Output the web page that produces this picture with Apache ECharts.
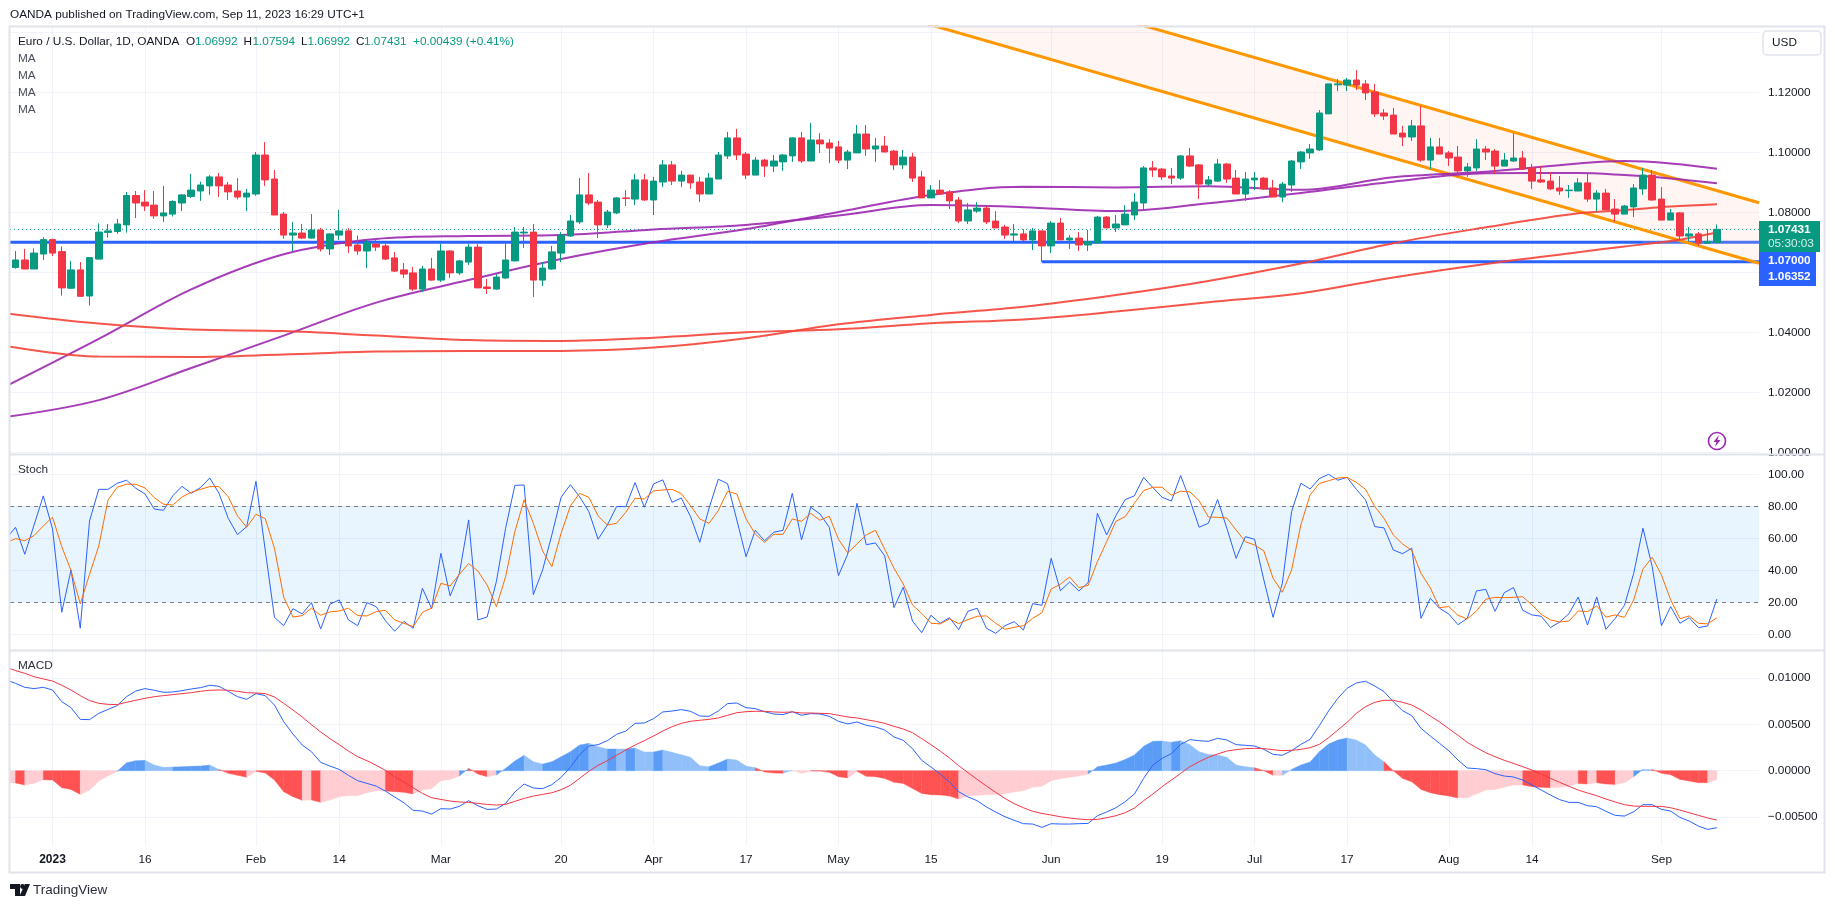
<!DOCTYPE html>
<html><head><meta charset="utf-8">
<style>html,body{margin:0;padding:0;background:#fff}#c{width:1835px;height:909px}</style>
<script src="https://cdn.jsdelivr.net/npm/echarts@6/dist/echarts.min.js"></script>
</head><body><div id="c"></div>
<script>
// bar index 0 = 2 Jan 2023, weekdays only; candles run from index -4 to 180
const firstCandle = -4;
const ohlc = [
[1.0616,1.0671,1.0612,1.0641],[1.0641,1.0678,1.0610,1.0611],[1.0611,1.0680,1.0611,1.0664],[1.0661,1.0717,1.0641,1.0709],
[1.0709,1.0712,1.0654,1.0664],[1.0669,1.0686,1.0522,1.0548],[1.0547,1.0638,1.0544,1.0608],[1.0608,1.0634,1.0518,1.0520],[1.0521,1.0651,1.0489,1.0649],
[1.0644,1.0763,1.0643,1.0734],[1.0733,1.0761,1.0716,1.0738],[1.0736,1.0778,1.0728,1.0761],[1.0758,1.0868,1.0732,1.0856],[1.0856,1.0871,1.0781,1.0831],
[1.0834,1.0874,1.0804,1.0821],[1.0824,1.0871,1.0778,1.0788],[1.0788,1.0888,1.0768,1.0798],[1.0794,1.0840,1.0786,1.0836],[1.0831,1.0861,1.0804,1.0858],
[1.0853,1.0928,1.0848,1.0874],[1.0871,1.0902,1.0838,1.0891],[1.0888,1.0924,1.0858,1.0918],[1.0918,1.0931,1.0851,1.0888],[1.0891,1.0901,1.0841,1.0868],
[1.0871,1.0914,1.0843,1.0851],[1.0851,1.0878,1.0804,1.0864],[1.0861,1.1001,1.0855,1.0991],[1.0991,1.1034,1.0888,1.0908],[1.0911,1.0941,1.0791,1.0791],
[1.0794,1.0801,1.0712,1.0724],[1.0724,1.0768,1.0671,1.0731],[1.0731,1.0761,1.0711,1.0714],[1.0714,1.0794,1.0712,1.0741],[1.0741,1.0748,1.0669,1.0678],
[1.0678,1.0730,1.0658,1.0728],[1.0724,1.0808,1.0708,1.0738],[1.0738,1.0747,1.0664,1.0688],[1.0691,1.0723,1.0658,1.0671],[1.0671,1.0708,1.0614,1.0698],
[1.0694,1.0710,1.0671,1.0684],[1.0688,1.0701,1.0641,1.0644],[1.0648,1.0668,1.0601,1.0604],[1.0608,1.0631,1.0581,1.0594],[1.0598,1.0618,1.0538,1.0544],
[1.0544,1.0621,1.0534,1.0611],[1.0611,1.0648,1.0572,1.0574],[1.0574,1.0696,1.0568,1.0671],[1.0671,1.0674,1.0581,1.0598],[1.0598,1.0641,1.0591,1.0638],
[1.0634,1.0694,1.0624,1.0684],[1.0684,1.0694,1.0548,1.0548],[1.0551,1.0578,1.0528,1.0546],[1.0544,1.0594,1.0542,1.0584],[1.0581,1.0701,1.0578,1.0641],
[1.0638,1.0751,1.0636,1.0734],[1.0731,1.0751,1.0681,1.0734],[1.0734,1.0761,1.0518,1.0574],[1.0574,1.0634,1.0554,1.0614],[1.0611,1.0688,1.0608,1.0668],
[1.0664,1.0734,1.0634,1.0724],[1.0721,1.0791,1.0718,1.0771],[1.0768,1.0914,1.0761,1.0858],[1.0858,1.0931,1.0824,1.0831],[1.0834,1.0841,1.0714,1.0758],
[1.0758,1.0808,1.0748,1.0801],[1.0798,1.0851,1.0794,1.0848],[1.0848,1.0874,1.0821,1.0846],[1.0844,1.0928,1.0824,1.0908],[1.0908,1.0928,1.0838,1.0841],
[1.0841,1.0918,1.0791,1.0904],[1.0901,1.0974,1.0884,1.0958],[1.0958,1.0971,1.0891,1.0904],[1.0904,1.0938,1.0884,1.0924],[1.0924,1.0924,1.0878,1.0898],
[1.0901,1.0918,1.0834,1.0861],[1.0861,1.0931,1.0861,1.0914],[1.0911,1.1001,1.0911,1.0991],[1.0988,1.1068,1.0978,1.1048],[1.1048,1.1078,1.0974,1.0991],
[1.0994,1.1001,1.0911,1.0924],[1.0924,1.0984,1.0924,1.0974],[1.0974,1.0978,1.0918,1.0954],[1.0954,1.0991,1.0934,1.0971],[1.0968,1.0994,1.0938,1.0991],
[1.0988,1.1051,1.0968,1.1048],[1.1048,1.1068,1.0964,1.0971],[1.0971,1.1098,1.0971,1.1041],[1.1041,1.1064,1.0998,1.1028],[1.1031,1.1044,1.0964,1.1014],
[1.1018,1.1038,1.0964,1.0974],[1.0974,1.1008,1.0944,1.1001],[1.0998,1.1091,1.0998,1.1061],[1.1061,1.1091,1.0988,1.1011],[1.1011,1.1048,1.0968,1.1021],
[1.1021,1.1054,1.1001,1.1001],[1.1004,1.1008,1.0941,1.0958],[1.0958,1.1008,1.0944,1.0984],[1.0984,1.0998,1.0901,1.0914],[1.0918,1.0938,1.0848,1.0848],
[1.0848,1.0891,1.0848,1.0874],[1.0874,1.0908,1.0858,1.0861],[1.0868,1.0874,1.0811,1.0838],[1.0841,1.0851,1.0764,1.0771],[1.0771,1.0831,1.0761,1.0808],
[1.0804,1.0834,1.0798,1.0814],[1.0814,1.0821,1.0761,1.0768],[1.0771,1.0804,1.0748,1.0748],[1.0751,1.0758,1.0711,1.0724],[1.0724,1.0761,1.0704,1.0728],
[1.0728,1.0744,1.0704,1.0708],[1.0708,1.0748,1.0674,1.0738],[1.0738,1.0738,1.0635,1.0688],[1.0688,1.0771,1.0664,1.0764],[1.0764,1.0781,1.0708,1.0708],
[1.0708,1.0724,1.0678,1.0714],[1.0714,1.0734,1.0671,1.0691],[1.0691,1.0741,1.0671,1.0702],[1.0698,1.0788,1.0698,1.0784],[1.0784,1.0788,1.0748,1.0748],
[1.0748,1.0791,1.0734,1.0761],[1.0758,1.0824,1.0758,1.0794],[1.0791,1.0864,1.0774,1.0834],[1.0831,1.0954,1.0808,1.0948],[1.0948,1.0971,1.0918,1.0941],
[1.0944,1.0948,1.0908,1.0918],[1.0921,1.0948,1.0894,1.0914],[1.0914,1.0991,1.0908,1.0988],[1.0988,1.1014,1.0951,1.0954],[1.0958,1.0961,1.0844,1.0894],
[1.0894,1.0921,1.0888,1.0908],[1.0904,1.0978,1.0901,1.0961],[1.0961,1.0964,1.0898,1.0911],[1.0914,1.0941,1.0861,1.0861],[1.0861,1.0934,1.0838,1.0911],
[1.0908,1.0934,1.0874,1.0914],[1.0914,1.0918,1.0874,1.0878],[1.0881,1.0908,1.0851,1.0851],[1.0851,1.0901,1.0834,1.0894],[1.0891,1.0974,1.0868,1.0971],
[1.0968,1.1004,1.0944,1.1001],[1.0998,1.1028,1.0978,1.1011],[1.1008,1.1141,1.1004,1.1131],[1.1128,1.1228,1.1128,1.1228],[1.1225,1.1244,1.1204,1.1228],
[1.1224,1.1248,1.1204,1.1241],[1.1241,1.1274,1.1208,1.1224],[1.1228,1.1241,1.1174,1.1198],[1.1201,1.1228,1.1118,1.1128],[1.1131,1.1144,1.1108,1.1121],
[1.1124,1.1148,1.1061,1.1061],[1.1064,1.1088,1.1021,1.1051],[1.1051,1.1108,1.1038,1.1088],[1.1088,1.1154,1.0968,1.0974],[1.0974,1.1048,1.0944,1.1018],
[1.1018,1.1048,1.0994,1.0994],[1.0998,1.1004,1.0954,1.0981],[1.0984,1.1021,1.0918,1.0938],[1.0938,1.0964,1.0918,1.0951],[1.0948,1.1044,1.0938,1.1011],
[1.1011,1.1021,1.0974,1.1001],[1.1004,1.1011,1.0928,1.0954],[1.0954,1.0998,1.0954,1.0974],[1.0971,1.1063,1.0968,1.0981],[1.0981,1.1004,1.0941,1.0944],
[1.0948,1.0961,1.0878,1.0904],[1.0908,1.0954,1.0898,1.0901],[1.0904,1.0934,1.0874,1.0878],[1.0881,1.0921,1.0858,1.0871],[1.0872,1.0891,1.0848,1.0874],
[1.0871,1.0914,1.0871,1.0898],[1.0898,1.0931,1.0834,1.0844],[1.0844,1.0874,1.0804,1.0864],[1.0864,1.0878,1.0808,1.0808],[1.0811,1.0844,1.0768,1.0794],
[1.0794,1.0824,1.0794,1.0821],[1.0818,1.0894,1.0784,1.0881],[1.0878,1.0948,1.0858,1.0924],[1.0924,1.0941,1.0838,1.0841],[1.0844,1.0884,1.0774,1.0774],
[1.0774,1.0811,1.0774,1.0798],[1.0798,1.0801,1.0708,1.0721],[1.0721,1.0751,1.0703,1.0728],[1.0728,1.0734,1.0688,1.0697],[1.0697,1.0744,1.0697,1.0703],
[1.06992,1.07594,1.06992,1.07431]
];
const maIndex = [-5,5,15,25,35,45,55,65,75,85,95,105,115,125,135,145,155,165,170,175,180];
const maPurpleFast = [1.0221,1.0378,1.0543,1.0660,1.0711,1.0721,1.0724,1.0743,1.0758,1.0789,1.0824,1.0817,1.0804,1.0830,1.0864,1.0902,1.0930,1.0931,1.0924,1.0913,1.0897];
const maPurpleSlow = [1.0118,1.0174,1.0281,1.0389,1.0499,1.0574,1.0644,1.0700,1.0744,1.0801,1.0858,1.0885,1.0883,1.0887,1.0875,1.0917,1.0935,1.0963,1.0971,1.0963,1.0945];
const maRedSlow = [1.0463,1.0429,1.0409,1.0404,1.0389,1.0374,1.0371,1.0382,1.0400,1.0410,1.0430,1.0443,1.0469,1.0500,1.0530,1.0583,1.0628,1.0667,1.0686,1.0704,1.0733];
const maRedFast = [1.0354,1.0319,1.0318,1.0326,1.0336,1.0338,1.0338,1.0349,1.0380,1.0427,1.0458,1.0485,1.0524,1.0571,1.0629,1.0697,1.0750,1.0797,1.0807,1.0819,1.0827];

const channelUpperIdx = [115,184.55], channelUpperPrice = [1.1449,1.0832];
const channelLowerIdx = [90,184.55], channelLowerPrice = [1.1469,1.0630];
const lastPrice = 1.07431, supportA = 1.07000, supportB = 1.06352, supportBStart = 107;

// oscillators start one bar earlier, at index -5
const firstOsc = -5;
const stochK = [59.8,66.9,50.0,68.3,86.5,65.8,13.8,40.2,3.8,70.8,90.6,90.6,94.4,96.3,91.3,87.7,78.3,77.5,86.5,92.5,88.1,91.7,97.7,88.1,72.5,62.3,67.3,95.6,52.7,10.6,5.4,16.0,12.7,19.8,3.3,18.8,21.5,9.0,5.4,19.8,17.3,8.5,1.9,8.1,3.8,28.8,16.0,50.6,24.0,38.1,71.5,9.0,10.8,32.9,66.3,93.1,93.3,24.8,40.2,62.1,85.6,93.5,86.0,76.7,59.4,68.3,79.8,79.8,94.8,79.4,94.0,96.5,82.5,85.2,73.5,57.5,78.8,96.9,94.2,71.5,48.5,65.0,58.5,63.8,65.0,88.1,59.0,79.4,75.2,66.9,36.7,50.2,81.9,56.0,57.1,49.0,16.7,29.4,8.3,1.0,11.9,6.9,10.4,2.9,14.4,16.3,3.8,0.6,5.4,7.9,2.7,19.2,18.1,47.5,27.3,32.7,27.1,32.3,75.6,62.1,74.2,84.2,86.5,98.1,91.7,85.6,83.3,99.2,84.0,66.9,69.4,84.2,66.3,47.5,61.0,59.4,34.0,10.6,31.9,76.7,94.4,90.8,97.3,100,96.3,98.1,90.6,84.0,67.3,66.5,52.7,50.4,53.8,10.0,22.5,16.3,12.7,6.0,10.0,27.1,28.1,14.4,26.0,29.2,15.0,12.1,11.3,4.2,7.7,12.9,23.3,5.8,23.3,3.1,10.0,18.1,38.1,66.3,42.3,5.4,17.3,6.9,10.4,4.2,5.2,22.1];
const stochD = [57.3,59.8,58.5,61.7,67.7,73.1,54.8,39.8,19.0,37.5,55.2,84.0,91.9,93.8,93.8,91.5,85.4,81.3,80.8,85.8,88.8,90.6,92.3,92.3,86.0,74.0,66.9,75.0,72.3,53.8,23.3,10.8,11.7,16.3,11.9,14.0,14.6,16.3,11.7,11.5,14.2,15.0,9.0,6.9,4.8,13.8,16.3,31.9,30.2,37.5,44.2,39.6,30.8,17.3,36.0,64.2,84.0,69.4,52.1,42.3,63.1,80.2,88.1,85.6,74.0,68.3,69.4,76.3,85.0,84.6,89.6,90.2,90.6,87.9,80.4,72.1,69.4,77.3,89.4,87.7,72.1,62.7,57.5,62.5,62.5,72.1,70.6,75.6,71.3,73.8,59.4,50.8,56.5,62.1,65.0,53.1,41.3,31.5,18.3,13.1,6.9,6.5,9.6,6.7,9.2,11.3,11.5,6.9,3.1,4.4,5.4,10.0,13.5,28.3,31.3,35.8,29.2,30.6,45.4,57.9,70.6,73.5,81.9,89.8,91.9,91.9,86.9,89.4,89.0,83.5,73.3,73.1,72.7,65.2,57.9,55.8,52.1,35.0,26.3,40.2,68.3,87.1,94.2,96.0,97.7,98.1,95.0,90.6,79.8,72.5,62.1,56.5,52.5,38.1,29.0,16.7,17.3,11.9,9.6,14.6,21.9,23.1,22.9,23.1,23.5,18.3,12.5,9.0,7.7,8.3,14.6,14.2,17.7,10.8,12.1,10.6,21.5,40.8,48.1,37.1,21.5,9.8,11.5,6.9,6.5,10.4];
const macdLine = [0.00979,0.00943,0.00900,0.00886,0.00900,0.00871,0.00745,0.00680,0.00554,0.00551,0.00619,0.00662,0.00702,0.00799,0.00860,0.00886,0.00868,0.00846,0.00850,0.00864,0.00882,0.00896,0.00922,0.00911,0.00857,0.00799,0.00770,0.00832,0.00810,0.00709,0.00529,0.00396,0.00277,0.00205,0.00090,0.00050,0.00014,-0.00050,-0.00108,-0.00137,-0.00166,-0.00220,-0.00284,-0.00346,-0.00428,-0.00436,-0.00468,-0.00410,-0.00414,-0.00385,-0.00324,-0.00378,-0.00418,-0.00414,-0.00353,-0.00230,-0.00144,-0.00187,-0.00194,-0.00151,-0.00072,0.00036,0.00173,0.00266,0.00281,0.00324,0.00392,0.00428,0.00511,0.00515,0.00562,0.00634,0.00644,0.00659,0.00641,0.00590,0.00587,0.00644,0.00724,0.00731,0.00680,0.00670,0.00637,0.00612,0.00605,0.00637,0.00598,0.00616,0.00612,0.00587,0.00533,0.00504,0.00526,0.00490,0.00472,0.00439,0.00364,0.00328,0.00238,0.00112,0.00040,-0.00036,-0.00122,-0.00227,-0.00284,-0.00324,-0.00392,-0.00446,-0.00497,-0.00536,-0.00572,-0.00576,-0.00612,-0.00572,-0.00576,-0.00576,-0.00572,-0.00569,-0.00486,-0.00446,-0.00400,-0.00335,-0.00252,-0.00083,0.00061,0.00133,0.00184,0.00284,0.00335,0.00324,0.00317,0.00349,0.00331,0.00281,0.00274,0.00266,0.00230,0.00176,0.00166,0.00216,0.00284,0.00338,0.00486,0.00644,0.00781,0.00889,0.00947,0.00965,0.00914,0.00853,0.00745,0.00648,0.00594,0.00457,0.00374,0.00295,0.00216,0.00115,0.00029,0.00022,0.00011,-0.00032,-0.00058,-0.00068,-0.00101,-0.00155,-0.00209,-0.00263,-0.00313,-0.00342,-0.00342,-0.00378,-0.00389,-0.00439,-0.00482,-0.00490,-0.00443,-0.00367,-0.00367,-0.00418,-0.00436,-0.00504,-0.00544,-0.00598,-0.00634,-0.00616];
const macdSignal = [0.01116,0.01080,0.01051,0.01015,0.00990,0.00968,0.00922,0.00871,0.00810,0.00756,0.00727,0.00716,0.00713,0.00738,0.00760,0.00781,0.00799,0.00810,0.00821,0.00832,0.00842,0.00857,0.00868,0.00871,0.00868,0.00857,0.00842,0.00839,0.00832,0.00796,0.00727,0.00655,0.00580,0.00497,0.00418,0.00346,0.00281,0.00212,0.00151,0.00108,0.00058,0.00004,-0.00065,-0.00122,-0.00184,-0.00245,-0.00292,-0.00310,-0.00328,-0.00338,-0.00342,-0.00353,-0.00364,-0.00371,-0.00364,-0.00331,-0.00299,-0.00274,-0.00256,-0.00238,-0.00205,-0.00158,-0.00083,-0.00007,0.00058,0.00108,0.00166,0.00223,0.00277,0.00324,0.00374,0.00428,0.00475,0.00511,0.00533,0.00544,0.00554,0.00569,0.00598,0.00626,0.00637,0.00641,0.00641,0.00634,0.00630,0.00634,0.00623,0.00623,0.00619,0.00616,0.00598,0.00580,0.00569,0.00551,0.00533,0.00511,0.00479,0.00450,0.00410,0.00346,0.00281,0.00212,0.00137,0.00054,-0.00022,-0.00094,-0.00166,-0.00234,-0.00299,-0.00356,-0.00400,-0.00439,-0.00461,-0.00479,-0.00497,-0.00511,-0.00522,-0.00529,-0.00526,-0.00508,-0.00486,-0.00454,-0.00403,-0.00324,-0.00252,-0.00173,-0.00101,-0.00029,0.00043,0.00097,0.00144,0.00180,0.00212,0.00227,0.00238,0.00241,0.00238,0.00227,0.00216,0.00220,0.00230,0.00248,0.00284,0.00356,0.00439,0.00522,0.00619,0.00691,0.00738,0.00760,0.00760,0.00738,0.00709,0.00655,0.00590,0.00526,0.00454,0.00382,0.00306,0.00248,0.00194,0.00151,0.00112,0.00079,0.00043,0.00007,-0.00036,-0.00083,-0.00126,-0.00169,-0.00209,-0.00241,-0.00270,-0.00306,-0.00338,-0.00367,-0.00382,-0.00385,-0.00385,-0.00385,-0.00400,-0.00425,-0.00454,-0.00482,-0.00511,-0.00533];
const macdHist = [-0.00130,-0.00133,-0.00155,-0.00137,-0.00097,-0.00101,-0.00184,-0.00202,-0.00256,-0.00212,-0.00112,-0.00058,-0.00007,0.00086,0.00108,0.00112,0.00061,0.00036,0.00040,0.00043,0.00047,0.00050,0.00061,0.00014,-0.00029,-0.00050,-0.00072,-0.00007,-0.00025,-0.00101,-0.00227,-0.00281,-0.00320,-0.00317,-0.00342,-0.00317,-0.00281,-0.00270,-0.00270,-0.00238,-0.00216,-0.00220,-0.00227,-0.00234,-0.00252,-0.00209,-0.00191,-0.00108,-0.00094,-0.00058,0.00025,-0.00036,-0.00065,-0.00047,0.00025,0.00104,0.00166,0.00097,0.00072,0.00097,0.00151,0.00205,0.00277,0.00295,0.00259,0.00234,0.00234,0.00234,0.00245,0.00202,0.00202,0.00223,0.00198,0.00173,0.00144,0.00054,0.00043,0.00083,0.00126,0.00115,0.00050,0.00032,-0.00014,-0.00025,-0.00029,0.00007,-0.00029,-0.00004,-0.00004,-0.00018,-0.00065,-0.00079,-0.00007,-0.00061,-0.00065,-0.00083,-0.00126,-0.00137,-0.00191,-0.00245,-0.00259,-0.00263,-0.00274,-0.00306,-0.00274,-0.00266,-0.00259,-0.00259,-0.00248,-0.00230,-0.00216,-0.00180,-0.00169,-0.00108,-0.00086,-0.00072,-0.00058,-0.00036,0.00043,0.00061,0.00083,0.00122,0.00169,0.00263,0.00317,0.00320,0.00306,0.00324,0.00281,0.00205,0.00176,0.00169,0.00144,0.00061,0.00043,0.00032,0,-0.00050,-0.00050,0.00014,0.00061,0.00094,0.00205,0.00288,0.00331,0.00353,0.00331,0.00277,0.00169,0.00097,0,-0.00083,-0.00119,-0.00202,-0.00238,-0.00259,-0.00274,-0.00295,-0.00292,-0.00252,-0.00209,-0.00202,-0.00180,-0.00155,-0.00155,-0.00173,-0.00180,-0.00184,-0.00180,-0.00166,-0.00137,-0.00144,-0.00130,-0.00144,-0.00148,-0.00130,-0.00065,0.00014,0.00014,-0.00029,-0.00043,-0.00094,-0.00112,-0.00130,-0.00130,-0.00094];
// 0 strong up, 1 weak up, 2 strong down, 3 weak down
const macdHistShade = [3,3,2,3,3,2,2,2,2,3,3,3,3,0,0,0,1,1,1,0,0,0,0,1,2,2,2,3,2,2,2,2,2,3,2,3,3,3,3,3,3,3,2,2,2,3,3,3,3,3,0,2,2,3,0,0,0,1,1,0,0,0,0,0,1,1,0,1,0,1,1,0,1,1,1,1,1,0,0,1,1,1,2,2,2,1,3,3,2,2,2,2,3,2,2,2,2,2,2,2,2,2,2,2,3,3,3,3,3,3,3,3,3,3,3,3,3,3,0,0,0,0,0,0,0,0,1,0,1,1,1,1,1,1,1,1,2,2,3,1,0,0,0,0,0,0,1,1,1,1,2,2,2,2,2,2,2,2,3,3,3,3,3,3,3,2,2,2,3,3,3,2,3,2,2,3,3,0,1,2,2,2,2,2,2,3];

const tickIndex = [0,10,22,31,42,55,65,75,85,95,108,120,130,140,151,160,174];
const tickLabels = ['2023','16','Feb','14','Mar','20','Apr','17','May','15','Jun','19','Jul','17','Aug','14','Sep'];
const priceGrid = [1.00,1.02,1.04,1.06,1.08,1.10,1.12,1.14];
const priceTicks = [1.00,1.02,1.04,1.08,1.10,1.12];
const stochTicks = [0,20,40,60,80,100];
const macdTicks = [-0.005,0,0.005,0.01];

const FONT = 'Liberation Sans';
const FS = 11.8;
const TXT = '#131722', GRID = '#f0f3fa', FRAME = '#e0e3eb';
const UP = '#089981', DOWN = '#f23645';
const HIST = ['#5b9cf6','#90bff9','#ff5252','#ffcdd2'];
const xMin = -4.6, xMax = 184.55;

const grids = [
  {left:10,width:1749,top:27,height:427},
  {left:10,width:1749,top:455,height:195},
  {left:10,width:1749,top:651,height:195}
];
const xAxes = [0,1,2].map(i=>({
  type:'value',gridIndex:i,min:xMin,max:xMax,
  axisLine:{show:false},
  axisTick:{show:false,customValues:tickIndex},
  splitLine:{show:true,lineStyle:{color:GRID,width:1}},
  axisLabel: i===2 ? {
    show:true,customValues:tickIndex,margin:8,color:TXT,fontFamily:FONT,fontSize:FS,hideOverlap:false,
    formatter:v=>{const s=tickLabels[tickIndex.indexOf(v)];return s==='2023'?'{b|2023}':s;},
    rich:{b:{fontWeight:'bold',fontSize:12,color:TXT,fontFamily:FONT}}
  } : {show:false}
}));
function yAxis(g,min,max,gridVals,labelVals,fmt){
  return {type:'value',gridIndex:g,position:'right',min,max,scale:true,
    axisLine:{show:false},
    axisTick:{show:false,customValues:gridVals},
    splitLine:{show:true,lineStyle:{color:GRID,width:1}},
    axisLabel:{show:true,customValues:labelVals,margin:9,color:TXT,fontFamily:FONT,fontSize:FS,formatter:fmt}};
}
const yAxes = [
  yAxis(0,0.99943,1.14177,priceGrid,priceTicks,v=>v.toFixed(5)),
  yAxis(1,-9.8,112.06,stochTicks,stochTicks,v=>v.toFixed(2)),
  yAxis(2,-0.00813,0.01292,macdTicks,macdTicks,v=>(v<0?'\u2212':'')+Math.abs(v).toFixed(5))
];

const line=(name,data,color,width,xi,extra)=>Object.assign({
  name,type:'line',xAxisIndex:xi,yAxisIndex:xi,data,showSymbol:false,symbol:'none',silent:true,
  lineStyle:{color,width},clip:true,animation:false,z:5
},extra||{});
const oscSeries = arr=>arr.map((v,i)=>[firstOsc+i,v]);
const maSeries = arr=>arr.map((v,i)=>[maIndex[i],v]);

const series = [
  {name:'Channel',type:'custom',xAxisIndex:0,yAxisIndex:0,clip:true,silent:true,animation:false,z:1,
   data:[[channelLowerIdx[0],channelLowerPrice[0],channelLowerIdx[1],channelLowerPrice[1],channelUpperIdx[1],channelUpperPrice[1],channelUpperIdx[0],channelUpperPrice[0]]],
   renderItem:(p,api)=>({type:'polygon',shape:{points:[0,2,4,6].map(k=>api.coord([api.value(k),api.value(k+1)]))},style:{fill:'rgba(255,120,80,0.07)'}})},
  line('Last',[[xMin,lastPrice],[xMax,lastPrice]],UP,1,0,{lineStyle:{color:UP,width:1,type:[1,3]},z:2}),
  {name:'EURUSD',type:'candlestick',xAxisIndex:0,yAxisIndex:0,animation:false,silent:true,barWidth:7,z:8,
   encode:{x:0,y:[1,2,3,4]},
   itemStyle:{color:UP,color0:DOWN,borderColor:UP,borderColor0:DOWN,borderColorDoji:UP,borderWidth:1},
   data:ohlc.map((r,i)=>[firstCandle+i,r[0],r[3],r[2],r[1]])},
  line('SupportA',[[xMin,supportA],[172,supportA]],'#2962ff',3,0,{z:3}),
  line('SupportA2',[[172,supportA],[xMax,supportA]],'#4f74ee',3,0,{z:3}),
  line('SupportB',[[supportBStart,supportB],[xMax,supportB]],'#2962ff',3,0,{z:3}),
  line('ChannelUpper',channelUpperIdx.map((x,i)=>[x,channelUpperPrice[i]]),'#ff9800',3,0,{z:5}),
  line('ChannelLower',channelLowerIdx.map((x,i)=>[x,channelLowerPrice[i]]),'#ff9800',3,0,{z:5}),
  line('MA1',maSeries(maPurpleFast),'#9c27b0',2,0,{smooth:0.35,z:6,lineStyle:{color:'#9c27b0',width:2,opacity:0.9}}),
  line('MA2',maSeries(maPurpleSlow),'#9c27b0',2,0,{smooth:0.35,z:6,lineStyle:{color:'#9c27b0',width:2,opacity:0.9}}),
  line('MA3',maSeries(maRedSlow),'#f44336',2,0,{smooth:0.35,z:6,lineStyle:{color:'#f44336',width:2,opacity:0.9}}),
  line('MA4',maSeries(maRedFast),'#f44336',2,0,{smooth:0.35,z:6,lineStyle:{color:'#f44336',width:2,opacity:0.9}}),

  line('%K',oscSeries(stochK),'#2962ff',1,1,{z:6,
    markArea:{silent:true,animation:false,itemStyle:{color:'rgba(33,150,243,0.1)'},data:[[{yAxis:80},{yAxis:20}]]},
    markLine:{silent:true,animation:false,symbol:'none',label:{show:false},
      lineStyle:{color:'#787b86',type:[4,4],width:1},data:[{yAxis:80},{yAxis:20}]}}),
  line('%D',oscSeries(stochD),'#ff6d00',1,1,{z:7}),

  {name:'Histogram',type:'custom',xAxisIndex:2,yAxisIndex:2,clip:true,silent:true,animation:false,z:3,
   data:macdHist.map((v,i)=>[firstOsc+i,i?macdHist[i-1]:v,v,macdHistShade[i]]),
   renderItem:(p,api)=>{
     const x=api.value(0),a=api.value(1),b=api.value(2);
     const pts=[[x-1,0],[x-1,a],[x,b],[x,0]].map(q=>api.coord(q));
     const c=HIST[api.value(3)];
     return {type:'polygon',shape:{points:pts},style:{fill:c,stroke:c,lineWidth:0.4}};
   }},
  line('MACD',oscSeries(macdLine),'#2962ff',1,2,{z:6}),
  line('Signal',oscSeries(macdSignal),'#f23645',1,2,{z:7})
];

const text=(x,y,t,o)=>({type:'text',x,y,silent:true,z:50,style:Object.assign({text:t,fill:TXT,font:FS+'px "'+FONT+'"',textVerticalAlign:'middle'},o||{})});
const rect=(x,y,w,h,fill,o)=>Object.assign({type:'rect',silent:true,z:40,shape:{x,y,width:w,height:h,r:(o&&o.r)||0},style:{fill,stroke:(o&&o.stroke)||null,lineWidth:(o&&o.lw)||0}});
const g = [
  rect(9.5,26.5,1815,846,'none',{stroke:FRAME,lw:2}),
  {type:'line',silent:true,z:41,shape:{x1:10,y1:454.5,x2:1824,y2:454.5},style:{stroke:FRAME,lineWidth:2}},
  {type:'line',silent:true,z:41,shape:{x1:10,y1:650.5,x2:1824,y2:650.5},style:{stroke:FRAME,lineWidth:2}},
  text(10,15,'OANDA published on TradingView.com, Sep 11, 2023 16:29 UTC+1'),
  text(18,41.5,'Euro / U.S. Dollar, 1D, OANDA'),
  text(186,41.5,'O'),text(195,41.5,'1.06992',{fill:UP}),
  text(243.5,41.5,'H'),text(252.5,41.5,'1.07594',{fill:UP}),
  text(301,41.5,'L'),text(307.5,41.5,'1.06992',{fill:UP}),
  text(356,41.5,'C'),text(364,41.5,'1.07431',{fill:UP}),
  text(413,41.5,'+0.00439 (+0.41%)',{fill:UP}),
  text(18,59,'MA',{fill:'#4a4e5a'}),text(18,76,'MA',{fill:'#4a4e5a'}),text(18,93,'MA',{fill:'#4a4e5a'}),text(18,110,'MA',{fill:'#4a4e5a'}),
  text(18,470,'Stoch',{fill:'#2a2e39'}),text(18,666,'MACD',{fill:'#2a2e39'}),
  // USD button
  rect(1763,31,58,24,'#fff',{stroke:FRAME,lw:1.5,r:4}),
  text(1772,43,'USD'),
  // price labels on the scale
  rect(1759,221,61,31,UP),
  text(1768,229.5,'1.07431',{fill:'#fff',font:'bold '+FS+'px "'+FONT+'"'}),
  text(1768,243.5,'05:30:03',{fill:'#d5efe9',font:FS+'px "'+FONT+'"'}),
  rect(1759,252,57,34,'#2962ff'),
  text(1768,260.5,'1.07000',{fill:'#fff',font:'bold '+FS+'px "'+FONT+'"'}),
  text(1768,277,'1.06352',{fill:'#fff',font:'bold '+FS+'px "'+FONT+'"'}),
  // lightning badge
  {type:'circle',silent:true,z:40,shape:{cx:1717,cy:441,r:8.5},style:{fill:'#fff',stroke:'#9c27b0',lineWidth:1.6}},
  {type:'polygon',silent:true,z:41,shape:{points:[[1719,435],[1713.5,442],[1716.5,442],[1715,447],[1720.5,440],[1717.5,440]]},style:{fill:'#9c27b0'}},
  // TradingView mark
  {type:'polygon',silent:true,z:41,shape:{points:[[10,884],[20,884],[20,896],[15,896],[15,889],[10,889]]},style:{fill:TXT}},
  {type:'circle',silent:true,z:41,shape:{cx:22.5,cy:886.5,r:2.4},style:{fill:TXT}},
  {type:'polygon',silent:true,z:41,shape:{points:[[25,884],[30,884],[25,896],[19.5,896]]},style:{fill:TXT}},
  text(33,890.5,'TradingView',{font:'13.5px "'+FONT+'"',fill:'#2a2e39'})
];

const chart = echarts.init(document.getElementById('c'),null,{renderer:'canvas'});
chart.setOption({animation:false,backgroundColor:'#fff',grid:grids,xAxis:xAxes,yAxis:yAxes,series,graphic:g,tooltip:{show:false}});
</script></body></html>
